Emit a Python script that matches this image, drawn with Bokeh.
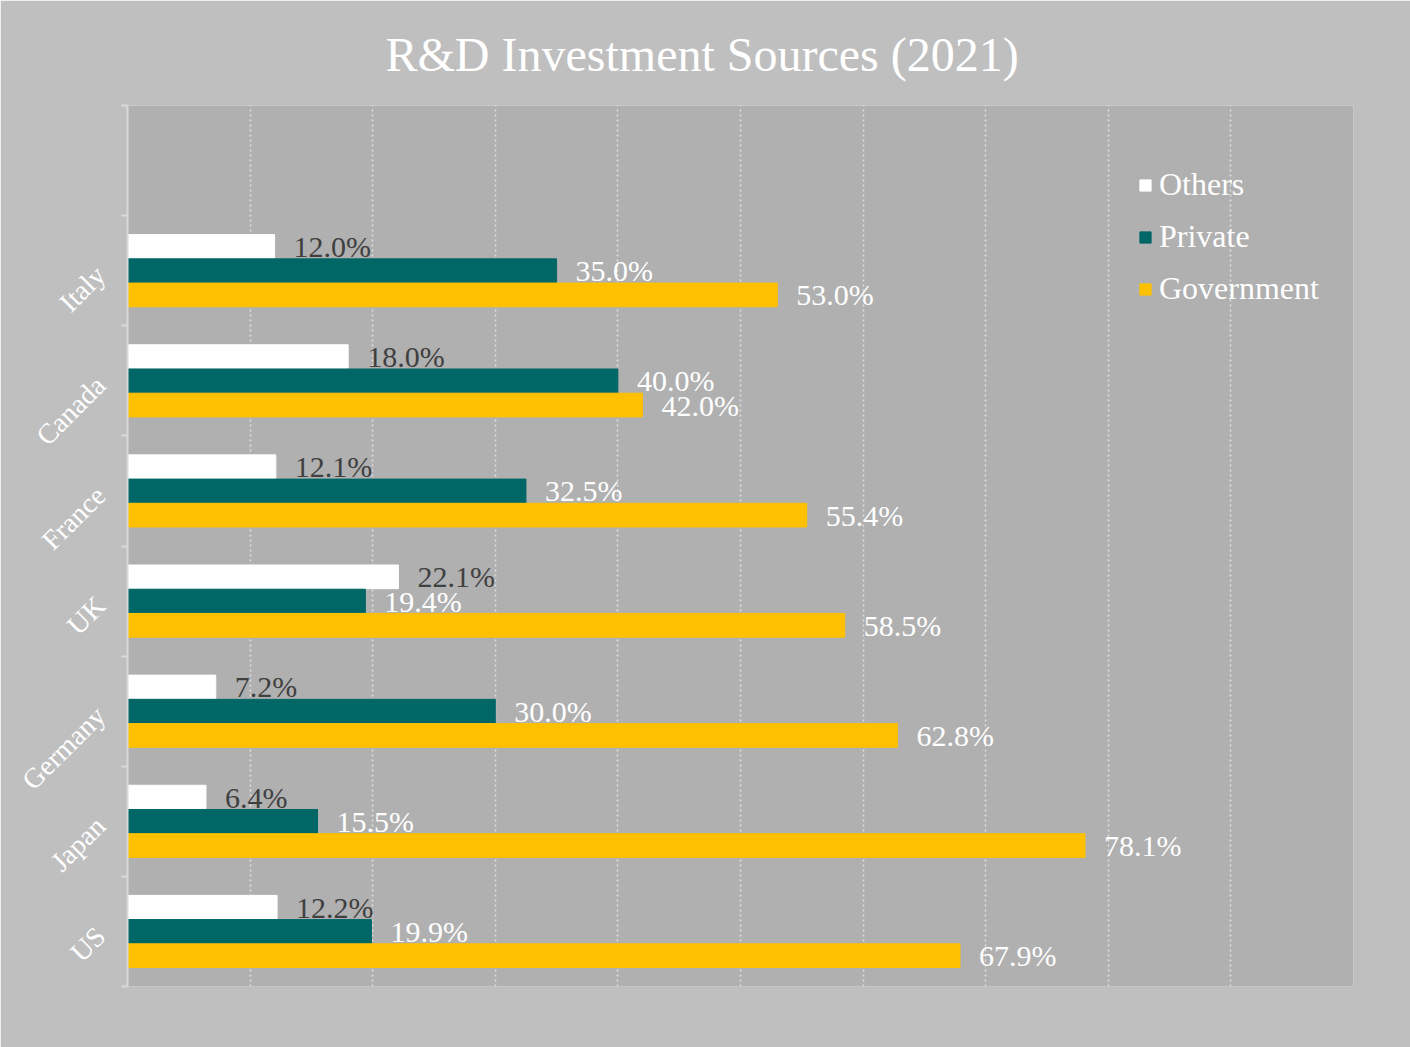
import math
from bokeh.plotting import figure
from bokeh.models import (ColumnDataSource, FixedTicker, Legend, LegendItem, Range1d)
from bokeh.core.properties import value
from bokeh.embed import file_html
from bokeh.resources import INLINE

countries = ["US", "Japan", "Germany", "UK", "France", "Canada", "Italy"]
others = [12.2, 6.4, 7.2, 22.1, 12.1, 18.0, 12.0]
private = [19.9, 15.5, 30.0, 19.4, 32.5, 40.0, 35.0]
government = [67.9, 78.1, 62.8, 58.5, 55.4, 42.0, 53.0]
series_names = ["Others", "Private", "Government"]
series_colors = ["#ffffff", "#006666", "#ffc000"]
label_colors = ["#404040", "#ffffff", "#ffffff"]

FONT = "Liberation Serif"
n_slots = 8
centers = [i + 0.5 for i in range(len(countries))]
offsets = [0.22, 0.0, -0.22]
bar_h = 0.215

p = figure(width=1410, height=1047, output_backend="svg", toolbar_location=None,
           x_range=Range1d(0, 100), y_range=Range1d(0, n_slots),
           min_border_left=127, min_border_right=57, min_border_top=104,
           min_border_bottom=61)

p.background_fill_color = "#b0b0b0"
p.border_fill_color = "#bfbfbf"
p.outline_line_color = None

p.title.text = "R&D Investment Sources (2021)"
p.title.align = "left"
p.title.offset = 258
p.title.text_color = "#ffffff"
p.title.text_font = FONT
p.title.text_font_size = "48px"
p.title.text_font_style = "normal"
p.title.standoff = 50

renderers = []
for vals, off, col, lcol in zip([others, private, government], offsets, series_colors, label_colors):
    src = ColumnDataSource(dict(
        y=[c + off for c in centers],
        right=vals,
        lab=["%.1f%%" % v for v in vals],
    ))
    r = p.hbar(y="y", left=0, right="right", height=bar_h, source=src,
               fill_color=col, line_color=col)
    renderers.append(r)
    p.text(x="right", y="y", text="lab", source=src, x_offset=19, y_offset=0,
           text_font=value(FONT), text_font_size="30px", text_color=lcol,
           text_align="left", text_baseline="middle")

p.xaxis.visible = False
p.xgrid.ticker = FixedTicker(ticks=list(range(10, 101, 10)))
p.xgrid.grid_line_color = "#e0e0e0"
p.xgrid.grid_line_dash = "2 3"
p.xgrid.grid_line_width = 1.5
p.ygrid.visible = False

ya = p.yaxis[0]
ya.ticker = FixedTicker(ticks=centers, minor_ticks=list(range(0, n_slots + 1)))
ya.major_label_overrides = {c: name for c, name in zip(centers, countries)}
ya.major_label_orientation = math.pi / 4
ya.major_label_text_font = FONT
ya.major_label_text_font_size = "28px"
ya.major_label_text_color = "#ffffff"
ya.major_label_standoff = 21
ya.major_tick_line_color = None
ya.minor_tick_line_color = "#d9d9d9"
ya.minor_tick_out = 6
ya.minor_tick_in = 0
ya.minor_tick_line_width = 2
ya.axis_line_color = "#d9d9d9"
ya.axis_line_width = 2

legend = Legend(items=[LegendItem(label=n, renderers=[r]) for n, r in zip(series_names, renderers)],
                location=(1011, 679), orientation="vertical")
legend.background_fill_alpha = 0
legend.border_line_alpha = 0
legend.padding = 0
legend.margin = 0
legend.glyph_width = 14
legend.glyph_height = 14
legend.label_height = 34
legend.spacing = 15
legend.label_standoff = 7
legend.label_text_font = FONT
legend.label_text_font_size = "32px"
legend.label_text_color = "#ffffff"
p.add_layout(legend, "center")

open("out.html", "w").write(file_html(p, INLINE))
